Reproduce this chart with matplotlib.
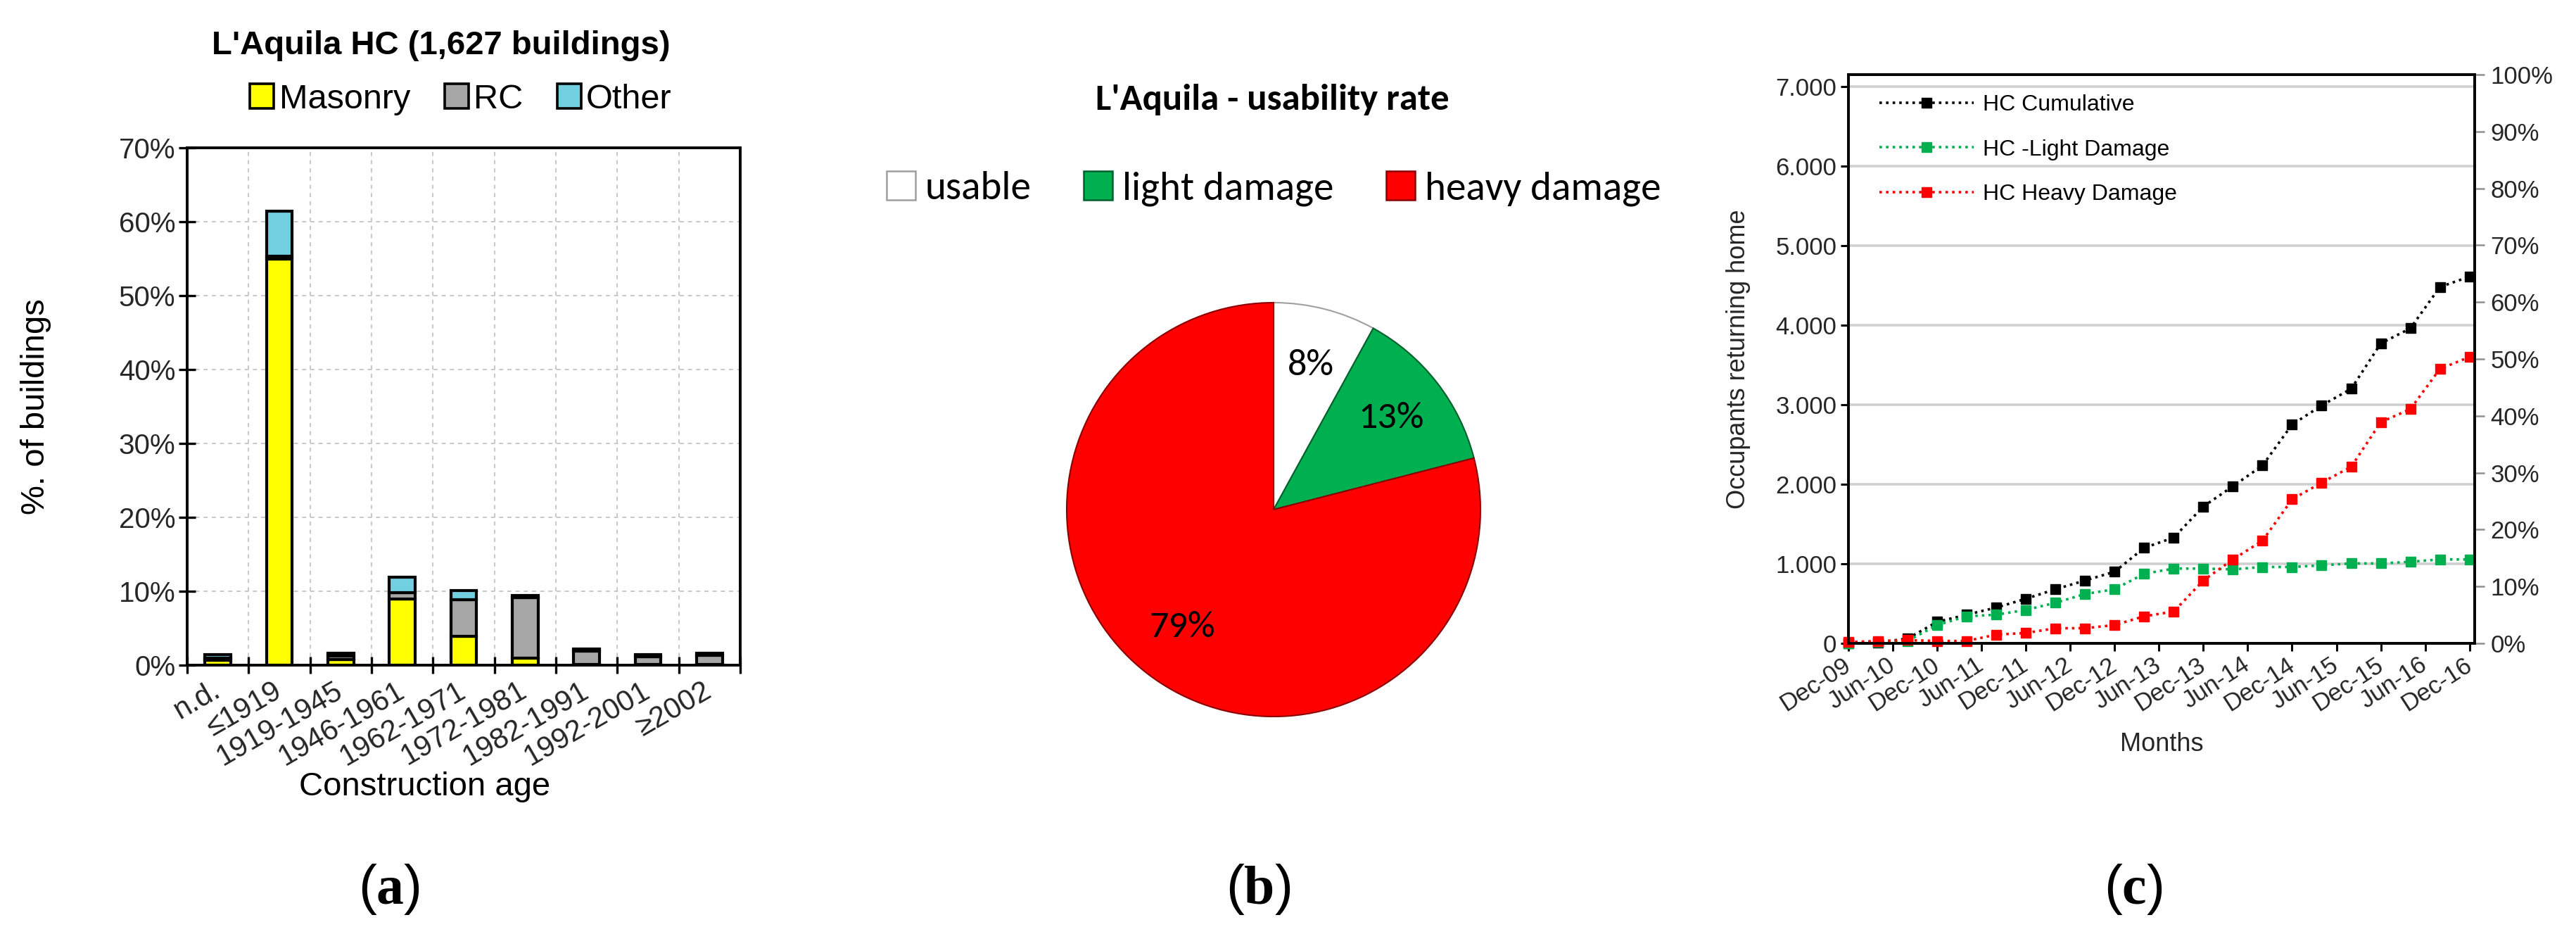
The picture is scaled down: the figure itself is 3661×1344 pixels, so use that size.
import matplotlib
matplotlib.use('Agg')
import matplotlib.pyplot as plt
from matplotlib import font_manager
from matplotlib.patches import Patch
from matplotlib.ticker import FuncFormatter, FixedLocator

# ---- data -------------------------------------------------------------
# (a) building stock by construction age (% of buildings)
ages = ['n.d.', '≤1919', '1919-1945', '1946-1961', '1962-1971',
        '1972-1981', '1982-1991', '1992-2001', '≥2002']
masonry = [0.7, 55.0, 0.8, 9.0, 3.9, 1.0, 0.1, 0.1, 0.1]
rc = [0.3, 0.3, 0.4, 0.8, 5.0, 8.1, 1.8, 1.0, 1.2]
other = [0.4, 6.1, 0.4, 2.1, 1.2, 0.3, 0.3, 0.3, 0.3]

# (b) usability rate
usab_labels = ['usable', 'light damage', 'heavy damage']
usab_values = [8, 13, 79]

# (c) occupants returning home, one point every 4 months from Dec-09
months = [0, 4, 8, 12, 16, 20, 24, 28, 32, 36, 40,
          44, 48, 52, 56, 60, 64, 68, 72, 76, 80, 84]
hc_cumulative = [0, 10, 60, 270, 360, 450, 560, 680, 790, 900, 1200,
                 1330, 1720, 1975, 2235, 2750, 2990, 3200, 3770, 3960, 4480, 4610]
hc_light = [0, 20, 30, 230, 340, 360, 420, 510, 620, 680, 875,
            940, 940, 930, 960, 960, 980, 1005, 1005, 1025, 1055, 1055]
hc_heavy = [15, 30, 40, 30, 30, 110, 130, 190, 190, 230, 340,
            400, 790, 1055, 1290, 1810, 2020, 2220, 2780, 2945, 3450, 3600]
month_ticks = [0, 6, 12, 18, 24, 30, 36, 42, 48, 54, 60, 66, 72, 78, 84]
month_labels = ['Dec-09', 'Jun-10', 'Dec-10', 'Jun-11', 'Dec-11', 'Jun-12',
                'Dec-12', 'Jun-13', 'Dec-13', 'Jun-14', 'Dec-14', 'Jun-15',
                'Dec-15', 'Jun-16', 'Dec-16']

# fonts
installed = set(f.name for f in font_manager.fontManager.ttflist)
arial = ['Liberation Sans', 'DejaVu Sans']
narrow = ['Liberation Sans Narrow', 'Liberation Sans', 'DejaVu Sans'] \
    if 'Liberation Sans Narrow' in installed else arial
calibri = ['Carlito', 'Lato', 'DejaVu Sans'] if 'Carlito' in installed else ['Lato', 'DejaVu Sans']

plt.rcParams['font.family'] = arial
plt.rcParams['mathtext.fontset'] = 'custom'
plt.rcParams['mathtext.rm'] = 'Liberation Serif'
plt.rcParams['mathtext.bf'] = 'Liberation Serif:bold'

W, H = 3662, 1344
fig = plt.figure(figsize=(W / 100, H / 100), dpi=100)


def box(l, t, r, b):
    # pixel box -> figure fraction
    return [l / W, 1 - b / H, (r - l) / W, (b - t) / H]


txt_col = '#262626'

# ---- (a) stacked bars -------------------------------------------------
ax = fig.add_axes(box(266, 210, 1052, 945))
x = list(range(len(ages)))
bw = 0.42
bot2 = [m + r for m, r in zip(masonry, rc)]
ax.bar(x, masonry, bw, color='#FFFF00', edgecolor='black', linewidth=3, zorder=3)
ax.bar(x, rc, bw, bottom=masonry, color='#A6A6A6', edgecolor='black', linewidth=3, zorder=3)
ax.bar(x, other, bw, bottom=bot2, color='#72CFE0', edgecolor='black', linewidth=3, zorder=3)
ax.set_xlim(-0.5, len(ages) - 0.5)
ax.set_ylim(0, 70)
ax.set_yticks(range(0, 71, 10))
ax.yaxis.set_major_formatter(FuncFormatter(lambda v, p: '%d%%' % v))
ax.xaxis.set_major_locator(FixedLocator([i - 0.5 for i in range(len(ages) + 1)]))
ax.xaxis.set_major_formatter(FuncFormatter(lambda v, p: ''))
ax.set_xticks(x, minor=True)
ax.set_xticklabels(ages, minor=True, rotation=30, ha='right', va='center',
                   rotation_mode='anchor', fontsize=30, color=txt_col)
ax.tick_params(axis='x', which='minor', length=0, pad=24)
ax.tick_params(axis='both', which='major', direction='inout', length=17, width=2.4,
               labelsize=29, labelcolor=txt_col)
ax.grid(True, which='major', color='#C8C8C8', linestyle=(0, (3, 3)), linewidth=1.4, zorder=0)
for s in ax.spines.values():
    s.set_linewidth(2.8)
ax.set_xlabel('Construction age', fontsize=34)
ax.xaxis.set_label_coords(0.429, -0.205)
ax.set_ylabel('%. of buildings', fontsize=34)
ax.yaxis.set_label_coords(-0.245, 0.5)
fig.text(627 / W, 1 - 65 / H, "L'Aquila HC (1,627 buildings)", ha='center', va='center',
         fontsize=34, fontweight='bold')
hand_a = [Patch(facecolor='#FFFF00', edgecolor='black', linewidth=2.6),
          Patch(facecolor='#A6A6A6', edgecolor='black', linewidth=2.6),
          Patch(facecolor='#72CFE0', edgecolor='black', linewidth=2.6)]
fig.legend(hand_a, ['Masonry', 'RC', 'Other'], loc='center', ncol=3,
           bbox_to_anchor=(655 / W, 1 - 141 / H), frameon=False, fontsize=35,
           handlelength=0.7, handleheight=0.7, handletextpad=0.15, columnspacing=1.0)

# ---- (b) pie ----------------------------------------------------------
axp = fig.add_axes(box(1810 - 367.5, 724 - 367.5, 1810 + 367.5, 724 + 367.5))
pie_cols = ['#FFFFFF', '#00B050', '#FF0000']
pie_edges = ['#A0A0A0', '#00602C', '#8B0000']
wedges, texts, autotexts = axp.pie(usab_values, colors=pie_cols, startangle=90,
                                   counterclock=False, autopct='%.0f%%', pctdistance=0.72,
                                   wedgeprops=dict(linewidth=1.5))
for w, ec in zip(wedges, pie_edges):
    w.set_edgecolor(ec)
for t in autotexts:
    t.set_fontsize(39)
    t.set_family(calibri)
axp.set_xlim(-1.25, 1.25)
axp.set_ylim(-1.25, 1.25)
fig.text(1808 / W, 1 - 142 / H, "L'Aquila - usability rate", ha='center', va='center',
         fontsize=38, fontweight='bold', family=calibri)
hand_b = [Patch(facecolor=c, edgecolor=e, linewidth=1.8) for c, e in zip(pie_cols, pie_edges)]
fig.legend(hand_b, usab_labels, loc='center', ncol=3,
           bbox_to_anchor=(1810 / W, 1 - 268 / H), frameon=False,
           prop={'family': calibri, 'size': 41},
           handlelength=0.72, handleheight=0.72, handletextpad=0.25, columnspacing=1.3)

# ---- (c) occupants returning home ------------------------------------
axc = fig.add_axes(box(2627, 106, 3517, 914))
dot = (0, (1, 1.6))
axc.plot(months, hc_cumulative, color='black', linestyle=dot, linewidth=2.6,
         marker='s', markersize=10, clip_on=False, zorder=4, label='HC Cumulative')
axc.plot(months, hc_light, color='#00B050', linestyle=dot, linewidth=2.6,
         marker='s', markersize=10, clip_on=False, zorder=5, label='HC -Light Damage')
axc.plot(months, hc_heavy, color='#FF0000', linestyle=dot, linewidth=2.6,
         marker='s', markersize=10, clip_on=False, zorder=6, label='HC Heavy Damage')
axc.set_xlim(0, 84.7)
axc.set_ylim(0, 7150)
axc.set_yticks(range(0, 7001, 1000))
axc.yaxis.set_major_formatter(FuncFormatter(lambda v, p: '{:,}'.format(int(v)).replace(',', '.')))
axc.set_xticks(month_ticks)
axc.set_xticklabels(month_labels, rotation=33, ha='right', va='center',
                    rotation_mode='anchor', family=narrow)
axc.tick_params(axis='x', direction='out', length=8, width=2.2, pad=12)
axc.tick_params(axis='y', direction='out', length=8, width=2.2, pad=4)
axc.tick_params(axis='both', labelsize=25, labelcolor=txt_col)
for t in axc.get_yticklabels():
    t.set_family(narrow)
axc.grid(True, axis='y', color='#D0D0D0', linewidth=2.6, zorder=0)
axc.set_axisbelow(True)
for s in axc.spines.values():
    s.set_linewidth(2.6)
axc.set_xlabel('Months', fontsize=26, family=narrow, color=txt_col)
axc.xaxis.set_label_coords(0.5, -0.156)
axc.set_ylabel('Occupants returning home', fontsize=26, family=narrow, color=txt_col)
axc.yaxis.set_label_coords(-0.156, 0.5)
axc.legend(loc='upper left', bbox_to_anchor=(2671 / W, 1 - 134 / H),
           bbox_transform=fig.transFigure, frameon=False, borderpad=0, borderaxespad=0,
           prop={'family': narrow, 'size': 23}, handlelength=4.2, handletextpad=0.4,
           labelspacing=1.05, numpoints=1)

axr = axc.twinx()
axr.set_ylim(0, 100)
axr.set_yticks(range(0, 101, 10))
axr.yaxis.set_major_formatter(FuncFormatter(lambda v, p: '%d%%' % v))
axr.tick_params(axis='y', direction='out', length=10, width=1.8, color='#909090',
                labelsize=25, labelcolor=txt_col, pad=6)
for t in axr.get_yticklabels():
    t.set_family(narrow)
for s in axr.spines.values():
    s.set_linewidth(2.6)

# ---- captions ---------------------------------------------------------
for cx, lab in [(553, 'a'), (1788, 'b'), (3032, 'c')]:
    fig.text(cx / W, 1 - 1264 / H, r'($\mathbf{%s}$)' % lab, ha='center', va='center',
             fontsize=56)

fig.savefig('out.png', dpi=100, facecolor='white')
